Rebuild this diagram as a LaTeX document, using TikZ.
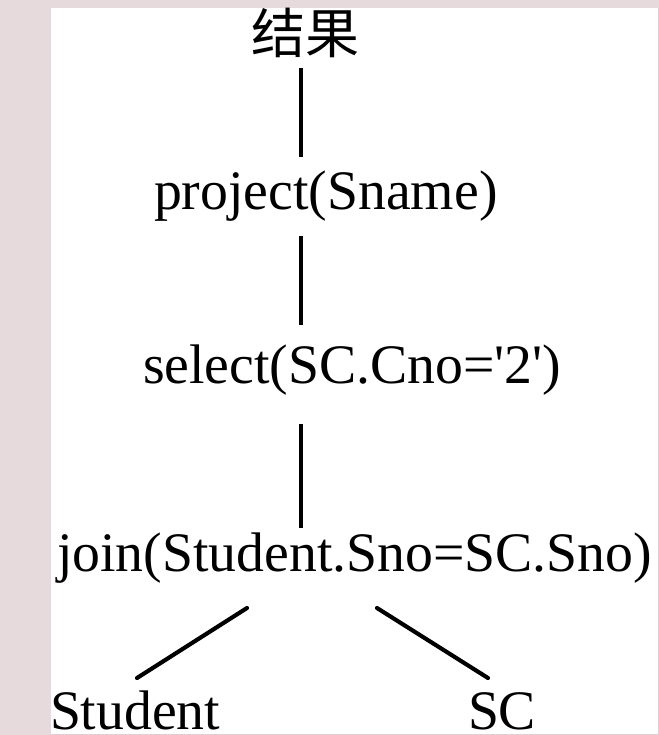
\documentclass[tikz,border=0pt]{standalone}
\usepackage{fontspec}
\setmainfont{Liberation Serif}[Ligatures=TeXOff]
\newfontfamily\cjk{Noto Sans CJK SC}
\definecolor{bgpink}{HTML}{E7DADD}
\definecolor{edgepink}{HTML}{E3CCD3}
\begin{document}
\begin{tikzpicture}[x=0.75pt,y=-0.75pt,
  lbl/.style={inner sep=0pt,outer sep=0pt,anchor=base west,font=\fontsize{41.8pt}{50pt}\selectfont},
  vline/.style={line width=3.4pt},
  dline/.style={line width=3.1pt,line cap=round}]
\useasboundingbox (0,0) rectangle (659,735);
\fill[bgpink] (0,0) rectangle (659,735);
\fill[edgepink] (51,8) rectangle (659,735);
\fill[white] (51,8) rectangle (657.5,733.5);
% nodes
\node[inner sep=0pt,outer sep=0pt,font=\cjk\fontsize{40.5pt}{48pt}\selectfont] (res) at (305,33) {结果};
\node[lbl] (proj) at (154,209) {project(Sname)};
\node[lbl] (sel) at (143,383) {select(SC.Cno='2')};
\node[lbl] (jn) at (57,571) {join(Student.Sno=SC.Sno)};
\node[lbl] (stu) at (50,729) {Student};
\node[lbl] (sc) at (468,729) {SC};
% connector ends
\coordinate (a1) at (301,68);  \coordinate (b1) at (301,157);
\coordinate (a2) at (301,236); \coordinate (b2) at (301,325);
\coordinate (a3) at (301,424); \coordinate (b3) at (301,528);
\coordinate (a4) at (247,608); \coordinate (b4) at (137,678);
\coordinate (a5) at (377,608); \coordinate (b5) at (488,678);
\draw[vline] (a1) -- (b1);
\draw[vline] (a2) -- (b2);
\draw[vline] (a3) -- (b3);
\draw[dline] (a4) -- (b4);
\draw[dline] (a5) -- (b5);
\end{tikzpicture}
\end{document}
